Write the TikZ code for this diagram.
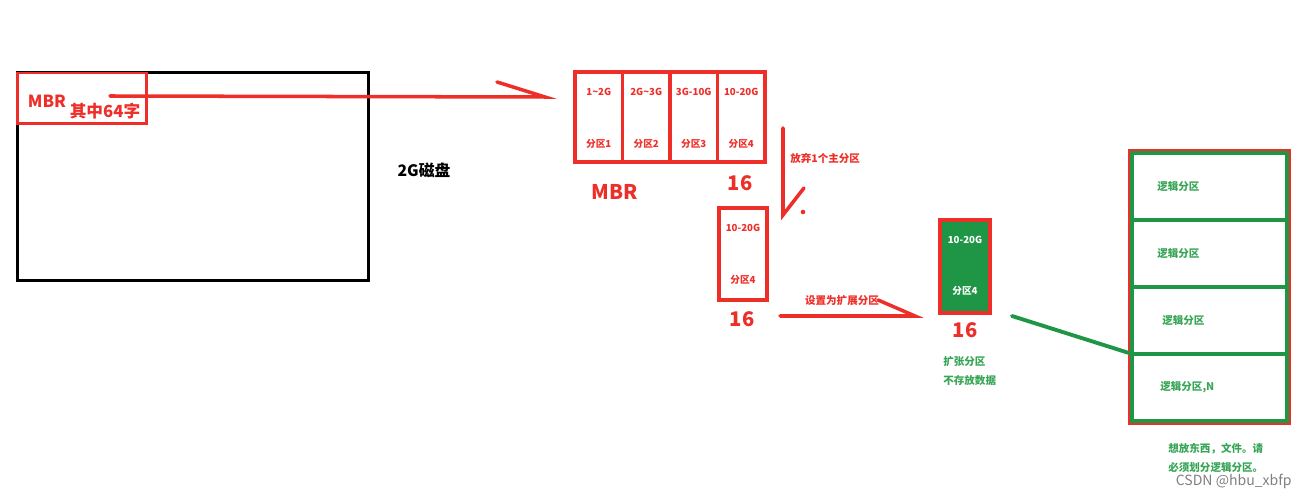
\documentclass[tikz,border=0pt]{standalone}
\usepackage{fontspec}
\setmainfont{Noto Sans CJK SC}
\usepackage{xcolor}
\definecolor{pen-red}{RGB}{238,46,40}
\definecolor{pen-green}{RGB}{30,150,70}
\definecolor{text-green}{RGB}{56,165,86}
\usetikzlibrary{positioning}

\begin{document}
\begin{tikzpicture}[
    x=0.02cm, y=-0.02cm,
    disk box/.style={
        draw=black,
        line width=1.7pt,
        minimum width=7.04cm,
        minimum height=4.18cm
    },
    mbr box/.style={
        draw=pen-red,
        line width=1.7pt,
        minimum width=2.6cm,
        minimum height=1.02cm
    },
    part cell/.style={
        draw=pen-red,
        line width=2pt,
        minimum width=0.95cm,
        minimum height=1.8cm,
        inner sep=0pt,
        outer sep=0pt
    },
    logic cell/.style={
        draw=pen-green,
        line width=2.2pt,
        minimum width=3.1cm,
        minimum height=1.34cm,
        inner sep=0pt,
        outer sep=0pt
    },
    cell text/.style={text=pen-red, font=\bfseries\fontsize{5.5}{6}\selectfont, inner sep=0pt},
    note text/.style={text=pen-red, font=\bfseries\fontsize{6}{7}\selectfont, inner sep=0pt},
    green text/.style={text=text-green, font=\bfseries\fontsize{6}{7}\selectfont, inner sep=0pt},
    big text/.style={text=pen-red, font=\bfseries\fontsize{11.5}{12}\selectfont, inner sep=0pt},
    pen/.style={draw=pen-red, line width=2pt, line cap=round},
    green pen/.style={draw=pen-green, line width=2.2pt, line cap=round}
]
\useasboundingbox (0,0) rectangle (1306,496);

% Disk
\node[disk box] (disk) at (193,176.5) {};
\node[mbr box] (mbr) at (82,98.5) {};
\node[text=pen-red, font=\bfseries\fontsize{9.5}{10}\selectfont, inner sep=0pt] (mbrname) at (47,101) {MBR};
\node[text=pen-red, font=\bfseries\fontsize{9.5}{10}\selectfont, inner sep=0pt] (mbrnote) at (105,111) {其中64字};
\node[font=\bfseries\fontsize{9}{10}\selectfont, inner sep=0pt] (disksize) at (424,170) {2G磁盘};

% Partition table
\node[part cell] (cell1) at (598.75,117) {};
\node[part cell, right=0pt of cell1] (cell2) {};
\node[part cell, right=0pt of cell2] (cell3) {};
\node[part cell, right=0pt of cell3] (cell4) {};
\node[cell text] (range1) at ([yshift=-0.4cm]cell1.north) {1\textasciitilde2G};
\node[cell text] (range2) at ([yshift=-0.4cm]cell2.north) {2G\textasciitilde3G};
\node[cell text] (range3) at ([yshift=-0.4cm]cell3.north) {3G-10G};
\node[cell text] (range4) at ([yshift=-0.4cm]cell4.north) {10-20G};
\node[cell text] (name1) at ([yshift=0.36cm]cell1.south) {分区1};
\node[cell text] (name2) at ([yshift=0.36cm]cell2.south) {分区2};
\node[cell text] (name3) at ([yshift=0.36cm]cell3.south) {分区3};
\node[cell text] (name4) at ([yshift=0.36cm]cell4.south) {分区4};
\node[big text] (tablembr) at (615,192) {MBR};
\node[big text] (tablesize) at (740,183) {16};

% Arrow to the table
\coordinate (mbrtail) at (110,96);
\coordinate (tabletip) at (545,97);
\draw[pen] (mbrtail) -- (tabletip) -- ++(-48,-15);

% Give up one primary partition
\coordinate (droptail) at (783,128);
\coordinate (droptip) at (783,215);
\draw[pen] (droptail) -- (droptip) -- ++(21,-27);
\fill[pen-red] (803,212) circle (1.3pt);
\node[note text, anchor=west] (dropnote) at (790,158) {放弃1个主分区};

% Single partition
\node[part cell, minimum width=0.96cm, minimum height=1.84cm] (part4) at (743,254) {};
\node[cell text] (part4range) at ([yshift=-0.4cm]part4.north) {10-20G};
\node[cell text] (part4name) at ([yshift=0.4cm]part4.south) {分区4};
\node[big text] (part4size) at (742,319) {16};

% Set as extended partition
\coordinate (exttail) at (780,316);
\coordinate (exttip) at (915,316);
\draw[pen] (exttail) -- (exttip) -- ++(-37,-16);
\node[note text] (extnote) at (842,301) {设置为扩展分区};

% Extended partition
\node[part cell, fill=pen-green, minimum width=1cm, minimum height=1.86cm] (ext) at (965,266.5) {};
\node[cell text, text=white] (extrange) at ([yshift=-0.4cm]ext.north) {10-20G};
\node[cell text, text=white] (extname) at ([yshift=0.44cm]ext.south) {分区4};
\node[big text] (extsize) at (965,330) {16};
\node[green text, anchor=west] (extnote1) at (943,362) {扩张分区};
\node[green text, anchor=west] (extnote2) at (943,381) {不存放数据};

% Logical partitions
\node[logic cell] (lg1) at (1209.5,186.5) {};
\node[logic cell, below=0pt of lg1] (lg2) {};
\node[logic cell, below=0pt of lg2] (lg3) {};
\node[logic cell, below=0pt of lg3] (lg4) {};
\draw[draw=pen-red, line width=1pt] ([xshift=-1.6pt,yshift=1.6pt]lg1.north west) rectangle ([xshift=1.6pt,yshift=-1.6pt]lg4.south east);
\node[green text, anchor=west] (lgname1) at ([xshift=0.5cm]lg1.west) {逻辑分区};
\node[green text, anchor=west] (lgname2) at ([xshift=0.5cm]lg2.west) {逻辑分区};
\node[green text, anchor=west] (lgname3) at ([xshift=0.6cm]lg3.west) {逻辑分区};
\node[green text, anchor=west] (lgname4) at ([xshift=0.56cm]lg4.west) {逻辑分区,N};

\coordinate (extlink) at (1012,316);
\draw[green pen] (extlink) -- (lg3.south west);

\node[green text, anchor=west] (tip1) at (1168,449) {想放东西，文件。请};
\node[green text, anchor=west] (tip2) at (1168,468) {必须划分逻辑分区。};
\node[text=gray, font=\fontsize{8}{9}\selectfont, anchor=east, inner sep=0pt] (mark) at (1292,481) {CSDN @hbu\_xbfp};

\end{tikzpicture}
\end{document}
